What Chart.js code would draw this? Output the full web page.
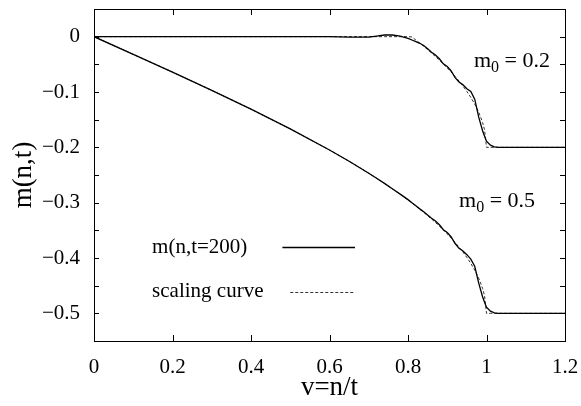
<!DOCTYPE html>
<html>
<head>
<meta charset="utf-8">
<script src="https://cdn.jsdelivr.net/npm/chart.js@4"></script>
<style>
body { margin: 0; background: #fff; }
#wrap { width: 581px; height: 406px; }
</style>
</head>
<body>
<div id="wrap"><canvas id="chart" width="581" height="406"></canvas></div>
<script>
// v = n/t sample points
var xs = [0, 0.1, 0.2, 0.3, 0.4, 0.5, 0.6, 0.65, 0.7, 0.72, 0.74, 0.76, 0.78, 0.8, 0.81, 0.82, 0.83, 0.84, 0.85, 0.86, 0.87, 0.88, 0.89, 0.9, 0.91, 0.92, 0.93, 0.94, 0.95, 0.96, 0.97, 0.98, 0.99, 0.995, 1.0, 1.01, 1.02, 1.03, 1.05, 1.1, 1.2];

// m0 = 0.2
var sim02 = [0, 0, 0, 0, 0, 0, 0, -0.001, -0.001, 0.001, 0.003, 0.003, 0.001, -0.003, -0.006, -0.009, -0.012, -0.016, -0.022, -0.028, -0.033, -0.040, -0.049, -0.054, -0.062, -0.074, -0.082, -0.087, -0.094, -0.099, -0.113, -0.145, -0.170, -0.180, -0.189, -0.196, -0.199, -0.2, -0.2, -0.2, -0.2];
var scal02 = [0, 0, 0, 0, 0, 0, 0, 0, 0, 0, 0, 0, 0, 0, -0.0005, -0.006, -0.0117, -0.0174, -0.0234, -0.0295, -0.0359, -0.0425, -0.0495, -0.0564, -0.0639, -0.0718, -0.0802, -0.0892, -0.099, -0.1097, -0.1218, -0.1362, -0.1549, -0.168, -0.2, -0.2, -0.2, -0.2, -0.2, -0.2, -0.2];

// m0 = 0.5
var sim05 = [0, -0.0319, -0.0641, -0.097, -0.131, -0.1667, -0.2048, -0.2252, -0.2468, -0.2559, -0.2652, -0.2748, -0.2845, -0.2945, -0.3002, -0.3056, -0.3112, -0.3165, -0.3224, -0.328, -0.333, -0.3400, -0.3488, -0.354, -0.362, -0.3738, -0.3825, -0.3872, -0.394, -0.402, -0.415, -0.445, -0.470, -0.480, -0.489, -0.496, -0.499, -0.5, -0.5, -0.5, -0.5];
var scal05 = [0, -0.0319, -0.0641, -0.097, -0.131, -0.1667, -0.2048, -0.2252, -0.2468, -0.2559, -0.2652, -0.2748, -0.2848, -0.2952, -0.3006, -0.306, -0.3119, -0.3174, -0.3234, -0.3295, -0.3359, -0.3425, -0.3493, -0.3564, -0.3641, -0.3718, -0.3805, -0.3892, -0.399, -0.4097, -0.4218, -0.4362, -0.4549, -0.4681, -0.5, -0.5, -0.5, -0.5, -0.5, -0.5, -0.5];

var xTicks = [0, 0.2, 0.4, 0.6, 0.8, 1, 1.2];
var xTickLabels = ['0', '0.2', '0.4', '0.6', '0.8', '1', '1.2'];
var yTicks = [0.05, 0, -0.05, -0.1, -0.15, -0.2, -0.25, -0.3, -0.35, -0.4, -0.45, -0.5, -0.55];
var yTickLabels = ['', '0', '', '\u22120.1', '', '\u22120.2', '', '\u22120.3', '', '\u22120.4', '', '\u22120.5', ''];
var legendLabels = ['m(n,t=200)', 'scaling curve'];

var SERIF = '"Liberation Serif", "Times New Roman", serif';

function pts(ys){
    return xs.map(function(x, i){ return {x: x, y: ys[i]}; });
}

function solid(ys){
    return { data: pts(ys), borderColor: '#000', borderWidth: 1.3, pointRadius: 0, showLine: true, tension: 0 };
}
function dashed(ys){
    return { data: pts(ys), borderColor: '#333', borderWidth: 1, borderDash: [3, 2], pointRadius: 0, showLine: true, tension: 0 };
}

// inward ticks on all four sides + frame, legend and labels
var framePlugin = {
    id: 'frame',
    afterDraw: function(chart){
        var ctx = chart.ctx;
        var a = chart.chartArea;
        var xs_ = chart.scales.x, ys_ = chart.scales.y;
        ctx.save();
        ctx.strokeStyle = '#000';
        ctx.lineWidth = 1;
        ctx.strokeRect(Math.round(a.left) + 0.5, Math.round(a.top) + 0.5, Math.round(a.right - a.left), Math.round(a.bottom - a.top));
        ctx.beginPath();
        xTicks.forEach(function(v){
            var px = Math.round(xs_.getPixelForValue(v)) + 0.5;
            ctx.moveTo(px, a.bottom); ctx.lineTo(px, a.bottom - 6);
            ctx.moveTo(px, a.top); ctx.lineTo(px, a.top + 6);
        });
        yTicks.forEach(function(v){
            var py = Math.round(ys_.getPixelForValue(v)) + 0.5;
            ctx.moveTo(a.left, py); ctx.lineTo(a.left + 5, py);
            ctx.moveTo(a.right, py); ctx.lineTo(a.right - 5, py);
        });
        ctx.stroke();

        // legend
        ctx.font = '21px ' + SERIF;
        ctx.fillStyle = '#000';
        ctx.textBaseline = 'middle';
        var lx = xs_.getPixelForValue(0.148);
        var s0 = xs_.getPixelForValue(0.48), s1 = xs_.getPixelForValue(0.665);
        var y1 = ys_.getPixelForValue(-0.381), y2 = ys_.getPixelForValue(-0.461);
        ctx.fillText(legendLabels[0], lx, y1);
        ctx.fillText(legendLabels[1], lx, y2);
        ctx.beginPath();
        ctx.lineWidth = 1.3;
        ctx.moveTo(s0, Math.round(y1) + 0.5); ctx.lineTo(s1, Math.round(y1) + 0.5);
        ctx.stroke();
        ctx.beginPath();
        ctx.lineWidth = 1;
        ctx.strokeStyle = '#333';
        ctx.setLineDash([3, 2]);
        ctx.moveTo(xs_.getPixelForValue(0.5), Math.round(y2) + 0.5); ctx.lineTo(s1, Math.round(y2) + 0.5);
        ctx.stroke();
        ctx.setLineDash([]);

        // curve labels
        drawM0(ctx, xs_.getPixelForValue(0.968), ys_.getPixelForValue(-0.055), '0.2');
        drawM0(ctx, xs_.getPixelForValue(0.93), ys_.getPixelForValue(-0.308), '0.5');
        ctx.restore();
    }
};

function drawM0(ctx, x, y, val){
    ctx.fillStyle = '#000';
    ctx.textBaseline = 'alphabetic';
    ctx.font = '22px ' + SERIF;
    ctx.fillText('m', x, y);
    var w = ctx.measureText('m').width;
    ctx.font = '16px ' + SERIF;
    ctx.fillText('0', x + w, y + 5);
    var w2 = ctx.measureText('0').width;
    ctx.font = '22px ' + SERIF;
    ctx.fillText(' = ' + val, x + w + w2, y);
}

new Chart(document.getElementById('chart'), {
    type: 'scatter',
    data: {
        datasets: [solid(sim02), dashed(scal02), solid(sim05), dashed(scal05)]
    },
    options: {
        responsive: false,
        animation: false,
        layout: { padding: { top: 9, right: 16, left: 0, bottom: 0 } },
        plugins: { legend: { display: false }, tooltip: { enabled: false } },
        scales: {
            x: {
                type: 'linear', min: 0, max: 1.2,
                afterFit: function(s){ s.height = 65; s.paddingLeft = 0; s.paddingRight = 0; },
                afterBuildTicks: function(s){ s.ticks = xTicks.map(function(v){ return {value: v}; }); },
                grid: { display: false, drawTicks: false },
                border: { display: false },
                ticks: {
                    padding: 14, color: '#000', maxRotation: 0, autoSkip: false,
                    font: { family: SERIF, size: 21 },
                    callback: function(v, i){ return xTickLabels[i]; }
                },
                title: { display: true, text: 'v=n/t', color: '#000', font: { family: SERIF, size: 27 }, padding: { top: 0, bottom: 2 } }
            },
            y: {
                type: 'linear', min: -0.55, max: 0.05,
                afterFit: function(s){ s.width = 94; s.paddingTop = 0; s.paddingBottom = 0; },
                afterBuildTicks: function(s){ s.ticks = yTicks.map(function(v){ return {value: v}; }); },
                grid: { display: false, drawTicks: false },
                border: { display: false },
                ticks: {
                    padding: 14, color: '#000', autoSkip: false,
                    font: { family: SERIF, size: 21 },
                    callback: function(v, i){ return yTickLabels[i]; }
                },
                title: { display: true, text: 'm(n,t)', color: '#000', font: { family: SERIF, size: 27 }, padding: { top: 8, bottom: 0 } }
            }
        }
    },
    plugins: [framePlugin]
});
</script>
</body>
</html>
